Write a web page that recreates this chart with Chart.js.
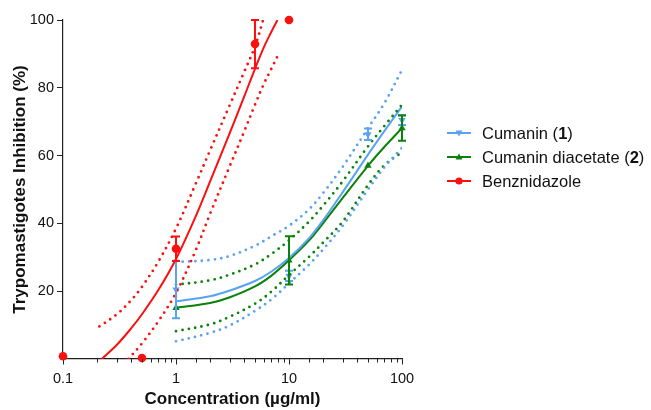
<!DOCTYPE html>
<html>
<head>
<meta charset="utf-8">
<script src="https://cdn.jsdelivr.net/npm/chart.js@4/dist/chart.umd.min.js"></script>
<style>
  html, body { margin: 0; padding: 0; background: #fff; }
  #wrap { position: relative; width: 651px; height: 410px; }
  #legend { position: absolute; left: 447px; top: 0; font-family: "Liberation Sans", Arial, sans-serif; font-size: 16.5px; color: #111; }
  .item { position: absolute; left: 0; height: 20px; display: flex; align-items: center; white-space: nowrap; }
  .item svg { margin-right: 11px; }
</style>
</head>
<body>
<div id="wrap">
  <canvas id="chart" width="651" height="410"></canvas>
  <div id="legend">
    <div class="item" style="top:123px">
      <svg width="24" height="12"><line x1="0" y1="6" x2="24" y2="6" stroke="#5aa2f2" stroke-width="2"/><polygon points="8.5,3.5 15.5,3.5 12,9.5" fill="#5aa2f2"/></svg>
      <span>Cumanin (<b>1</b>)</span>
    </div>
    <div class="item" style="top:147.3px">
      <svg width="24" height="12"><line x1="0" y1="6" x2="24" y2="6" stroke="#0a820a" stroke-width="2"/><polygon points="8.5,8.5 15.5,8.5 12,2.5" fill="#0a820a"/></svg>
      <span>Cumanin diacetate (<b>2</b>)</span>
    </div>
    <div class="item" style="top:171.3px">
      <svg width="24" height="12"><line x1="0" y1="6" x2="24" y2="6" stroke="#fb1010" stroke-width="2"/><circle cx="12" cy="6" r="3.6" fill="#fb1010"/></svg>
      <span>Benznidazole</span>
    </div>
  </div>
</div>
<script>
// measured means and error bars
const benzDose = [0.1, 0.5, 1, 5, 10];
const benzMean = [0.8, 0.3, 32.5, 92.9, 100];
const benzErr = [0, 0, 3.6, 7.1, 0];

const cumDose = [1, 10, 50, 100];
const cumMean = [20.5, 24.5, 66.3, 70.5];
const cumErr = [8.5, 1.5, 1.7, 1.5];

const diaDose = [1, 10, 50, 100];
const diaMean = [15.1, 29.1, 57.0, 68.1];
const diaErr = [0, 7.1, 0, 3.7];

// fitted curves and their bands
const fitX = [1, 2, 3, 5, 7, 10, 15, 20, 30, 50, 70, 100];
const cumFit = [17.0, 18.5, 20.2, 23.0, 25.8, 29.8, 35.6, 40.9, 49.3, 60.3, 67.3, 74.5];
const cumUpper = [28.6, 29.2, 30.4, 33.4, 36.2, 39.3, 44.1, 48.9, 56.8, 68.1, 75.5, 85.3];
const cumLower = [5.2, 7.7, 9.9, 14.2, 17.6, 22.3, 27.8, 32.3, 39.4, 50.0, 56.6, 62.3];
const diaFit = [15.1, 16.5, 18.2, 21.4, 24.6, 29.1, 34.9, 40.0, 47.6, 57.0, 62.6, 68.1];
const diaUpper = [21.9, 23.2, 24.9, 27.9, 31.0, 35.0, 40.5, 45.2, 52.5, 62.7, 68.8, 75.0];
const diaLower = [8.2, 10.2, 12.5, 16.3, 19.9, 24.8, 30.1, 34.3, 40.6, 51.3, 57.2, 61.0];

const benzFitX = [0.22, 0.3, 0.4, 0.5, 0.7, 1, 1.5, 2, 3, 4, 5, 6, 7, 7.9];
const benzFit = [0, 4.2, 9.0, 13.2, 20.4, 29.5, 42.2, 52.3, 66.8, 77.3, 85.6, 92.0, 96.6, 100];
const benzUpperX = [0.21, 0.3, 0.4, 0.5, 0.7, 1, 1.5, 2, 3, 4, 5, 5.9];
const benzUpper = [9.6, 13.2, 17.3, 21.3, 28.8, 38.5, 51.8, 61.5, 75, 84.6, 92.2, 100];
const benzLowerX = [0.38, 0.5, 0.7, 1, 1.5, 2, 3, 4, 5, 6, 7, 7.9];
const benzLower = [0, 4.6, 11.2, 19.5, 32.2, 42.8, 57, 67, 75, 81.2, 85.7, 89.3];

const xTicks = [0.1, 1, 10, 100];
const yTicks = [20, 40, 60, 80, 100];

const BLUE = '#5aa2f2';
const GREEN = '#0a820a';
const RED = '#fb1010';
const AXIS = '#222';

const pts = (xs, ys) => xs.map((x, i) => ({ x: x, y: ys[i] }));
const isDecade = v => xTicks.some(t => Math.abs(t - v) < 1e-9);

function curve(xs, ys, color) {
  return {
    type: 'line', data: pts(xs, ys), borderColor: color, borderWidth: 2,
    pointRadius: 0, fill: false, tension: 0.35
  };
}
function band(xs, ys, color) {
  return {
    type: 'line', data: pts(xs, ys), borderColor: color, borderWidth: 2.8,
    borderDash: [0, 6.5], borderCapStyle: 'round', pointRadius: 0,
    fill: false, tension: 0.35
  };
}
function markers(xs, ys, errs, color, style, rot) {
  return {
    type: 'scatter', data: pts(xs, ys), errors: errs, clip: false,
    backgroundColor: color, borderColor: color, borderWidth: 0,
    pointStyle: style, pointRotation: rot, pointRadius: style === 'circle' ? 4.3 : 4.2
  };
}

// vertical error bars with caps + short minor ticks on the log axis
const errorBars = {
  id: 'errorBars',
  afterDatasetsDraw(chart) {
    const ctx = chart.ctx;
    const xs = chart.scales.x, ys = chart.scales.y;
    ctx.save();
    chart.data.datasets.forEach(ds => {
      if (!ds.errors) return;
      ctx.strokeStyle = ds.borderColor;
      ctx.lineWidth = 2;
      ds.data.forEach((p, i) => {
        const e = ds.errors[i];
        if (!e) return;
        const px = xs.getPixelForValue(p.x);
        const top = ys.getPixelForValue(Math.min(p.y + e, 100));
        const bot = ys.getPixelForValue(p.y - e);
        ctx.beginPath();
        ctx.moveTo(px, top); ctx.lineTo(px, bot);
        ctx.moveTo(px - 4, top); ctx.lineTo(px + 4, top);
        ctx.moveTo(px - 4, bot); ctx.lineTo(px + 4, bot);
        ctx.stroke();
      });
    });
    ctx.strokeStyle = AXIS;
    ctx.lineWidth = 1;
    xs.ticks.forEach(t => {
      if (isDecade(t.value)) return;
      const px = Math.round(xs.getPixelForValue(t.value)) + 0.5;
      ctx.beginPath();
      ctx.moveTo(px, ys.bottom); ctx.lineTo(px, ys.bottom + 3.5);
      ctx.stroke();
    });
    ctx.restore();
  }
};

new Chart(document.getElementById('chart'), {
  data: {
    datasets: [
      band(benzUpperX, benzUpper, RED),
      band(benzLowerX, benzLower, RED),
      curve(benzFitX, benzFit, RED),
      band(fitX, cumUpper, BLUE),
      band(fitX, cumLower, BLUE),
      band(fitX, diaUpper, GREEN),
      band(fitX, diaLower, GREEN),
      curve(fitX, cumFit, BLUE),
      curve(fitX, diaFit, GREEN),
      markers(cumDose, cumMean, cumErr, BLUE, 'triangle', 180),
      markers(diaDose, diaMean, diaErr, GREEN, 'triangle', 0),
      markers(benzDose, benzMean, benzErr, RED, 'circle', 0)
    ]
  },
  options: {
    responsive: false,
    animation: false,
    layout: { padding: { left: 0, top: 20, right: 249, bottom: 0 } },
    plugins: { legend: { display: false }, tooltip: { enabled: false } },
    scales: {
      x: {
        type: 'logarithmic', min: 0.1, max: 100,
        border: { color: AXIS, width: 1.2 },
        grid: {
          drawOnChartArea: false, tickLength: 5.5, tickWidth: 1,
          tickColor: c => (c.tick && isDecade(c.tick.value)) ? AXIS : 'rgba(0,0,0,0)'
        },
        ticks: {
          autoSkip: false, maxRotation: 0, padding: 6, color: '#111',
          font: { family: 'Liberation Sans', size: 14.5 },
          callback: v => isDecade(v) ? String(v) : ''
        },
        title: {
          display: true, text: 'Concentration (\u00b5g/ml)', color: '#111',
          font: { family: 'Liberation Sans', size: 17, weight: 'bold' },
          padding: { top: 0, bottom: 0 }
        },
        afterFit: s => { s.height = 51; s.paddingLeft = 0; s.paddingRight = 0; }
      },
      y: {
        min: 0, max: 100,
        border: { color: AXIS, width: 1.2 },
        grid: {
          drawOnChartArea: false, tickLength: 6, tickWidth: 1,
          tickColor: c => (c.tick && c.tick.value === 0) ? 'rgba(0,0,0,0)' : AXIS
        },
        ticks: {
          stepSize: 20, padding: 3, color: '#111',
          font: { family: 'Liberation Sans', size: 14.5 },
          callback: v => yTicks.includes(v) ? String(v) : ''
        },
        title: {
          display: true, text: 'Trypomastigotes Inhibition (%)', color: '#111',
          font: { family: 'Liberation Sans', size: 17, weight: 'bold' },
          padding: { top: 10, bottom: 0 }
        },
        afterFit: s => { s.width = 63; s.paddingTop = 0; s.paddingBottom = 0; }
      }
    }
  },
  plugins: [errorBars]
});
</script>
</body>
</html>
